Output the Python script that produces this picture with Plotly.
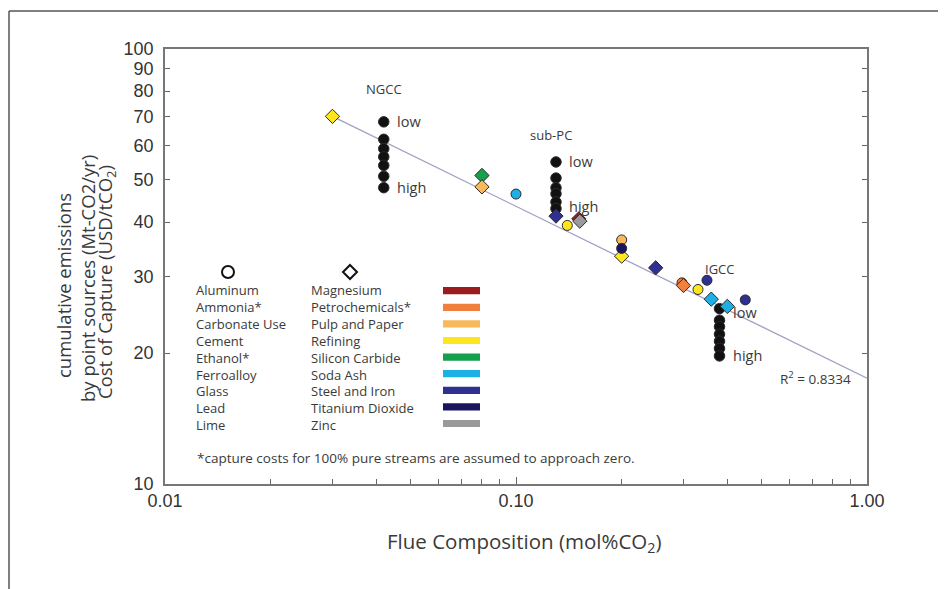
import numpy as np
import plotly.graph_objects as go

# ---------------- data ----------------
ngcc_x = [0.042, 0.042, 0.042, 0.042, 0.042, 0.042, 0.042]
ngcc_y = [68, 62, 59, 56.5, 54, 51, 48]
subpc_x = [0.13, 0.13, 0.13, 0.13, 0.13, 0.13]
subpc_y = [55, 50.5, 48, 46.5, 44.5, 43]
igcc_x = [0.38, 0.38, 0.38, 0.38, 0.38, 0.38, 0.38]
igcc_y = [25.3, 23.8, 23.0, 22.1, 21.3, 20.5, 19.7]

refining_x = [0.03, 0.2];      refining_y = [70, 33.4]
silicon_x = [0.08];            silicon_y = [51.2]
pulp_x = [0.08];               pulp_y = [48.2]
ferro_x = [0.1];               ferro_y = [46.4]
steel_x = [0.13, 0.25];        steel_y = [41.3, 31.4]
cement_x = [0.14, 0.33];       cement_y = [39.3, 28.0]
magnesium_x = [0.151];         magnesium_y = [40.7]
zinc_x = [0.152];              zinc_y = [40.2]
carbonate_x = [0.2];           carbonate_y = [36.4]
lead_x = [0.2];                lead_y = [34.8]
ammonia_x = [0.297];           ammonia_y = [29.0]
petro_x = [0.3];               petro_y = [28.6]
glass_x = [0.35, 0.45];        glass_y = [29.4, 26.5]
soda_x = [0.36, 0.40];         soda_y = [26.6, 25.6]

trend_x = [0.03, 1.0]
trend_y = [70, 17.5]

circle_names = ["Aluminum", "Ammonia*", "Carbonate Use", "Cement", "Ethanol*",
                "Ferroalloy", "Glass", "Lead", "Lime"]
diamond_names = ["Magnesium", "Petrochemicals*", "Pulp and Paper", "Refining",
                 "Silicon Carbide", "Soda Ash", "Steel and Iron", "Titanium Dioxide", "Zinc"]
legend_colors = ["#9B1B1F", "#F1803F", "#F8B95A", "#FFE61C", "#14A04C",
                 "#1DB0E6", "#2E3192", "#1A1560", "#9A9A9A"]

y_ticks = [10, 20, 30, 40, 50, 60, 70, 80, 90, 100]
x_ticks = [0.01, 0.1, 1.0]
x_ticktext = ["0.01", "0.10", "1.00"]
x_minor = [0.02, 0.03, 0.04, 0.05, 0.06, 0.07, 0.08, 0.09,
           0.2, 0.3, 0.4, 0.5, 0.6, 0.7, 0.8, 0.9]

col = dict(zip(diamond_names, legend_colors))
col.update(dict(zip(circle_names, legend_colors)))

TXT = "#3a3a3a"
FONT = "Open Sans"

fig = go.Figure()

fig.add_trace(go.Scatter(x=trend_x, y=trend_y, mode="lines",
                         line=dict(color="#A0A2C4", width=1.3), hoverinfo="skip"))

def pts(x, y, color, symbol, size=10):
    fig.add_trace(go.Scatter(x=x, y=y, mode="markers",
                             marker=dict(color=color, symbol=symbol, size=size,
                                         line=dict(color="#2a2a2a", width=1))))

pts(ngcc_x, ngcc_y, "#111111", "circle", 10.5)
pts(subpc_x, subpc_y, "#111111", "circle", 10.5)
pts(igcc_x, igcc_y, "#111111", "circle", 10.5)

pts(refining_x, refining_y, col["Refining"], "diamond", 11)
pts(silicon_x, silicon_y, col["Silicon Carbide"], "diamond", 11)
pts(pulp_x, pulp_y, col["Pulp and Paper"], "diamond", 11)
pts(ferro_x, ferro_y, col["Ferroalloy"], "circle", 10)
pts(steel_x, steel_y, col["Steel and Iron"], "diamond", 11)
pts(cement_x, cement_y, col["Cement"], "circle", 10)
pts(magnesium_x, magnesium_y, col["Magnesium"], "diamond", 11)
pts(zinc_x, zinc_y, col["Zinc"], "diamond", 11)
pts(carbonate_x, carbonate_y, col["Carbonate Use"], "circle", 10)
pts(lead_x, lead_y, col["Lead"], "circle", 10)
pts(ammonia_x, ammonia_y, col["Ammonia*"], "circle", 10)
pts(petro_x, petro_y, col["Petrochemicals*"], "diamond", 11)
pts(glass_x, glass_y, col["Glass"], "circle", 10)
pts(soda_x, soda_y, col["Soda Ash"], "diamond", 11)

ann = []
L = np.log10
def lab(size=14.5):
    return dict(font=dict(family=FONT, size=size, color=TXT), showarrow=False)

ann.append(dict(x=L(ngcc_x[0]), y=L(81), text="NGCC", xanchor="center", yanchor="middle", **lab(13)))
ann.append(dict(x=L(ngcc_x[0]), y=L(ngcc_y[0]), text="low", xanchor="left", xshift=11, **lab()))
ann.append(dict(x=L(ngcc_x[0]), y=L(ngcc_y[-1]), text="high", xanchor="left", xshift=11, **lab()))
ann.append(dict(x=L(subpc_x[0]), y=L(63.4), text="sub-PC", xanchor="center", xshift=-5, **lab(13)))
ann.append(dict(x=L(subpc_x[0]), y=L(subpc_y[0]), text="low", xanchor="left", xshift=11, **lab()))
ann.append(dict(x=L(subpc_x[0]), y=L(subpc_y[-1]), text="high", xanchor="left", xshift=11, yshift=2, **lab()))
ann.append(dict(x=L(igcc_x[0]), y=L(31.2), text="IGCC", xanchor="center", **lab(13)))
ann.append(dict(x=L(igcc_x[0]), y=L(igcc_y[0]), text="low", xanchor="left", xshift=11, yshift=-4, **lab()))
ann.append(dict(x=L(igcc_x[0]), y=L(igcc_y[-1]), text="high", xanchor="left", xshift=11, **lab()))

W, H = 702.0, 435.0
def px(p): return (p - 165) / W
def py(p): return (484 - p) / H

ann.append(dict(xref="paper", yref="paper", x=px(853), y=py(378), text="R<sup>2</sup> = 0.8334",
                xanchor="right", yanchor="middle", showarrow=False,
                font=dict(family=FONT, size=13.5, color=TXT)))

shapes = []
row0, drow = 290.7, 16.6
for names, xx in [(circle_names, 195), (diamond_names, 310)]:
    ann.append(dict(xref="paper", yref="paper", x=px(xx), y=py(row0 - 11), text="<br>".join(names),
                    xanchor="left", yanchor="top", align="left", showarrow=False, borderpad=0,
                    font=dict(family=FONT, size=13, color=TXT)))
for i, c in enumerate(legend_colors):
    yy = row0 + i * drow
    shapes.append(dict(type="rect", xref="paper", yref="paper",
                       x0=px(443), x1=px(480), y0=py(yy + 3.6), y1=py(yy - 3.6),
                       fillcolor=c, line=dict(width=0)))

shapes.append(dict(type="circle", xref="paper", yref="paper", xsizemode="pixel", ysizemode="pixel",
                   xanchor=px(228), yanchor=py(272), x0=-6, x1=6, y0=-6, y1=6,
                   line=dict(color="#111", width=2), fillcolor="white"))
shapes.append(dict(type="path", xref="paper", yref="paper", xsizemode="pixel", ysizemode="pixel",
                   xanchor=px(350), yanchor=py(272),
                   path="M 0 7 L 7 0 L 0 -7 L -7 0 Z",
                   line=dict(color="#111", width=2), fillcolor="white"))

ann.append(dict(xref="paper", yref="paper", x=px(195), y=py(457.5),
                text="*capture costs for 100% pure streams are assumed to approach zero.",
                xanchor="left", yanchor="middle", showarrow=False,
                font=dict(family=FONT, size=13.5, color=TXT)))

ann.append(dict(xref="paper", yref="paper", x=px(524), y=py(542),
                text="Flue Composition (mol%CO<sub>2</sub>)", xanchor="center", yanchor="middle",
                showarrow=False, font=dict(family=FONT, size=20.5, color=TXT)))
for t, xp, yp in [("cumulative emissions", 63, 285),
                  ("by point sources (Mt-CO2/yr)", 87, 279),
                  ("Cost of Capture (USD/tCO<sub>2</sub>)", 106, 282)]:
    ann.append(dict(xref="paper", yref="paper", x=px(xp), y=py(yp), text=t, textangle=-90,
                    xanchor="center", yanchor="middle", showarrow=False,
                    font=dict(family=FONT, size=18.5, color=TXT)))

shapes.append(dict(type="line", xref="paper", yref="paper", x0=px(9), x1=px(9),
                   y0=py(11), y1=py(600), line=dict(color="#555", width=1.5)))
shapes.append(dict(type="line", xref="paper", yref="paper", x0=px(9), x1=px(960),
                   y0=py(11), y1=py(11), line=dict(color="#555", width=1.5)))

# page body has an 8px margin, so the figure is offset by 8px
fig.update_layout(
    width=946, height=589,
    margin=dict(l=157, r=87, t=41, b=113),
    paper_bgcolor="white", plot_bgcolor="white",
    showlegend=False,
    annotations=ann, shapes=shapes,
    xaxis=dict(type="log", range=[-2, 0], tickvals=x_ticks, ticktext=x_ticktext,
               ticks="inside", ticklen=7, tickwidth=1.2, tickcolor="#666",
               showline=True, linecolor="#777", linewidth=1.6, mirror=True,
               showgrid=False, zeroline=False,
               tickfont=dict(family="Liberation Sans", size=18, color="#333"),
               minor=dict(tickmode="array", tickvals=x_minor, ticks="inside",
                          ticklen=5, tickwidth=1.2, tickcolor="#666", showgrid=False)),
    yaxis=dict(type="log", range=[1, 2], tickvals=y_ticks, ticktext=[str(v) for v in y_ticks],
               ticks="inside", ticklen=5, tickwidth=1.2, tickcolor="#666",
               showline=True, linecolor="#777", linewidth=1.6, mirror="ticks",
               showgrid=False, zeroline=False, ticklabelstandoff=6,
               tickfont=dict(family="Liberation Sans", size=18, color="#333")),
)

fig.write_html("out.html")
